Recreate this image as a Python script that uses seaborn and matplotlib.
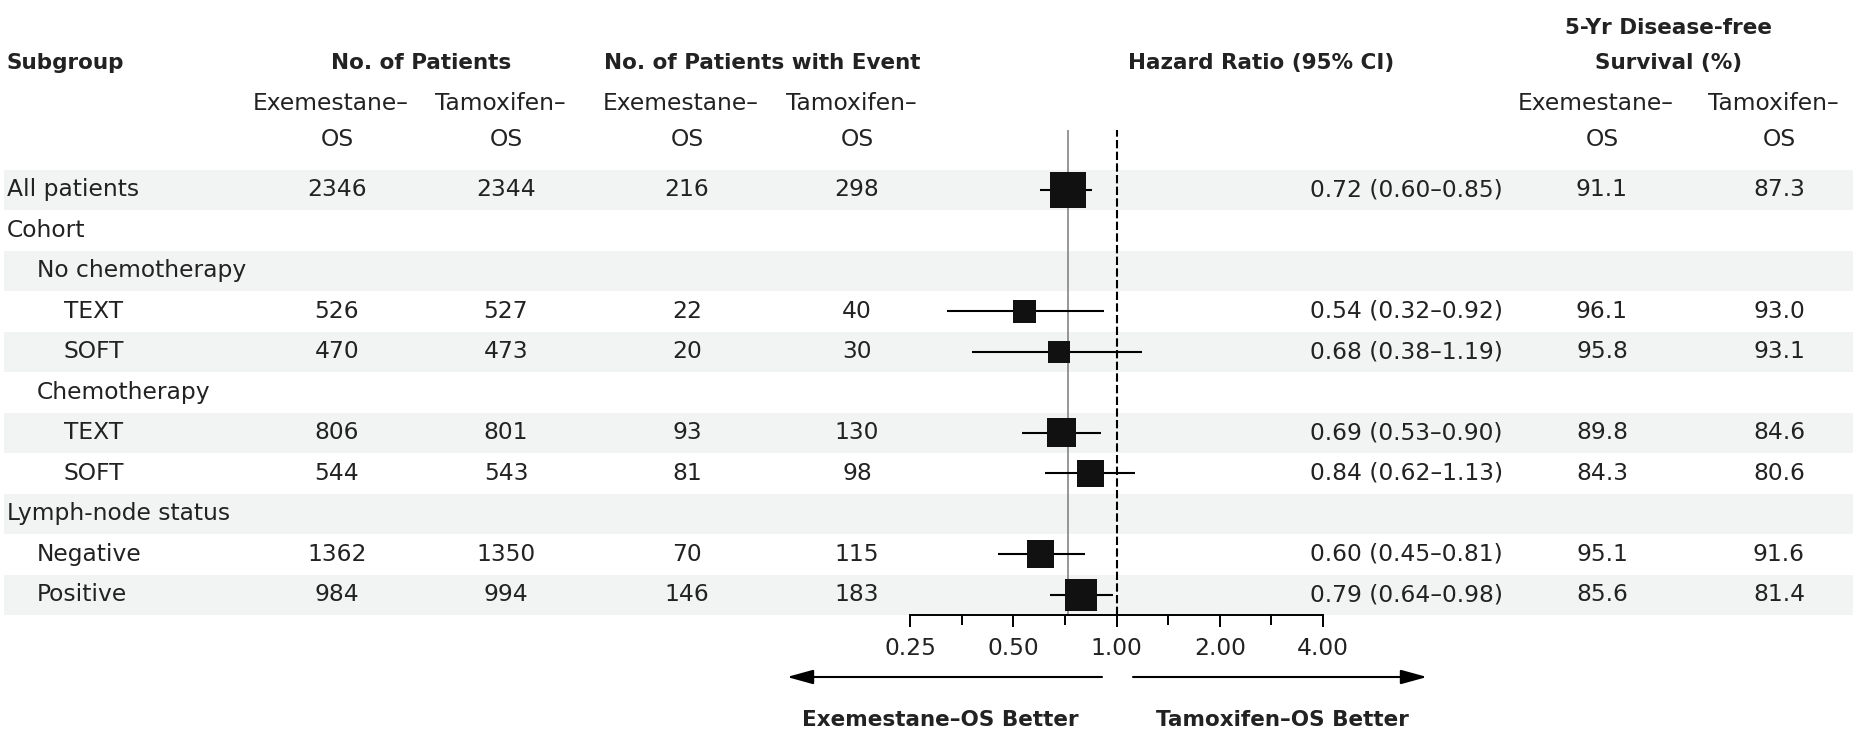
import numpy as np
import pandas as pd
import matplotlib
matplotlib.use('Agg')
import matplotlib.pyplot as plt
import matplotlib.transforms as mtransforms
from matplotlib.patches import Rectangle
from matplotlib.ticker import NullFormatter
import seaborn as sns

# ---- data ----
subgroups = ['All patients', 'Cohort', 'No chemotherapy', 'TEXT', 'SOFT',
             'Chemotherapy', 'TEXT', 'SOFT', 'Lymph-node status', 'Negative', 'Positive']
level = [0, 0, 1, 2, 2, 1, 2, 2, 0, 1, 1]
n_exe = [2346, None, None, 526, 470, None, 806, 544, None, 1362, 984]
n_tam = [2344, None, None, 527, 473, None, 801, 543, None, 1350, 994]
ev_exe = [216, None, None, 22, 20, None, 93, 81, None, 70, 146]
ev_tam = [298, None, None, 40, 30, None, 130, 98, None, 115, 183]
hr = [0.72, None, None, 0.54, 0.68, None, 0.69, 0.84, None, 0.60, 0.79]
hr_lo = [0.60, None, None, 0.32, 0.38, None, 0.53, 0.62, None, 0.45, 0.64]
hr_hi = [0.85, None, None, 0.92, 1.19, None, 0.90, 1.13, None, 0.81, 0.98]
dfs_exe = [91.1, None, None, 96.1, 95.8, None, 89.8, 84.3, None, 95.1, 85.6]
dfs_tam = [87.3, None, None, 93.0, 93.1, None, 84.6, 80.6, None, 91.6, 81.4]
x_ticks = [0.25, 0.5, 1.0, 2.0, 4.0]
x_ticklabels = ['0.25', '0.50', '1.00', '2.00', '4.00']

df = pd.DataFrame({'row': np.arange(len(subgroups)), 'hr': hr, 'lo': hr_lo, 'hi': hr_hi,
                   'ev_exe': ev_exe, 'ev_tam': ev_tam})
pts = df.dropna(subset=['hr']).copy()
# square side grows with the number of events
pts['side'] = (15.5 + 0.9 * np.sqrt(pts['ev_exe'] + pts['ev_tam'])) * 0.72

W, H = 1858, 733
INK = '#222222'
SHADE = '#f2f4f3'
FS = 16.8
FSB = 15.5

sns.set_style('white')
plt.rcParams['font.family'] = ['DejaVu Sans']
plt.rcParams['text.color'] = INK


def fx(px):
    return px / W


def fy(py):
    return 1 - py / H


fig = plt.figure(figsize=(W / 100, H / 100), dpi=100)
ax = fig.add_axes([fx(910), fy(615), (1323 - 910) / W, (615 - 130) / H])
ax.patch.set_visible(False)
ax.set_xscale('log', base=2)
ax.set_xlim(0.25, 4)
ax.set_ylim(10.5, -1.48)
row_tr = mtransforms.blended_transform_factory(fig.transFigure, ax.transData)

# alternating row shading over full width
for i in range(0, len(subgroups), 2):
    ax.add_patch(Rectangle((fx(4), i - 0.5), fx(1853) - fx(4), 1, transform=row_tr,
                           facecolor=SHADE, edgecolor='none', zorder=0, clip_on=False))

ax.axvline(hr[0], color='#7a7a7a', lw=1.1, zorder=1)
ax.axvline(1.0, color='black', lw=1.5, ls=(0, (4, 1.6)), zorder=1)
ax.hlines(pts['row'], pts['lo'], pts['hi'], color='black', lw=1.5, zorder=3)
sns.scatterplot(data=pts, x='hr', y='row', s=pts['side'] ** 2, marker='s',
                color='#111111', linewidth=0, legend=False, ax=ax, zorder=4)
ax.set_xlabel('')
ax.set_ylabel('')

ax.set_xticks(x_ticks)
ax.set_xticklabels(x_ticklabels)
ax.set_xticks(np.sqrt(np.array(x_ticks[:-1]) * np.array(x_ticks[1:])), minor=True)
ax.xaxis.set_minor_formatter(NullFormatter())
ax.tick_params(axis='x', which='major', bottom=True, direction='out', length=8.6, width=1.4,
               pad=7, labelsize=FS, colors='black', labelcolor=INK)
ax.tick_params(axis='x', which='minor', bottom=True, direction='out', length=7.2, width=1.4,
               colors='black')
ax.set_yticks([])
sns.despine(ax=ax, left=True)
ax.spines['bottom'].set_linewidth(1.4)
ax.spines['bottom'].set_color('black')

# ---- table text ----
indent_px = [7, 37, 64]
for i, name in enumerate(subgroups):
    ax.text(fx(indent_px[level[i]]), i, name, transform=row_tr, ha='left', va='center', fontsize=FS)

cols = [(337, n_exe), (506, n_tam), (687, ev_exe), (857, ev_tam)]
for x, vals in cols:
    for i, v in enumerate(vals):
        if v is not None:
            ax.text(fx(x), i, f'{v}', transform=row_tr, ha='center', va='center', fontsize=FS)
for x, vals in [(1602, dfs_exe), (1779, dfs_tam)]:
    for i, v in enumerate(vals):
        if v is not None:
            ax.text(fx(x), i, f'{v:.1f}', transform=row_tr, ha='center', va='center', fontsize=FS)
for i in range(len(subgroups)):
    if hr[i] is not None:
        ax.text(fx(1503), i, f'{hr[i]:.2f} ({hr_lo[i]:.2f}\u2013{hr_hi[i]:.2f})',
                transform=row_tr, ha='right', va='center', fontsize=FS)

# ---- headers ----
hdr = dict(fontsize=FSB, fontweight='bold', va='center')
fig.text(fx(7), fy(63), 'Subgroup', ha='left', **hdr)
fig.text(fx(421), fy(63), 'No. of Patients', ha='center', **hdr)
fig.text(fx(762), fy(63), 'No. of Patients with Event', ha='center', **hdr)
fig.text(fx(1261), fy(63), 'Hazard Ratio (95% CI)', ha='center', **hdr)
fig.text(fx(1669), fy(28), '5-Yr Disease-free', ha='center', **hdr)
fig.text(fx(1669), fy(63), 'Survival (%)', ha='center', **hdr)
for x, arm in [(337, 'Exemestane'), (506, 'Tamoxifen'), (687, 'Exemestane'),
               (857, 'Tamoxifen'), (1602, 'Exemestane'), (1779, 'Tamoxifen')]:
    fig.text(fx(x - 6), fy(103), arm + '\u2013', ha='center', va='center', fontsize=FS)
    fig.text(fx(x), fy(139), 'OS', ha='center', va='center', fontsize=FS)

# ---- direction arrows ----
arr = dict(arrowstyle='-|>,head_length=0.8,head_width=0.22', color='black', lw=1.5,
           mutation_scale=20, shrinkA=0, shrinkB=0)
ax.annotate('', xy=(fx(787), fy(677)), xytext=(fx(1102), fy(677)),
            xycoords='figure fraction', textcoords='figure fraction', arrowprops=arr)
ax.annotate('', xy=(fx(1427), fy(677)), xytext=(fx(1133), fy(677)),
            xycoords='figure fraction', textcoords='figure fraction', arrowprops=arr)
fig.text(fx(940), fy(720), 'Exemestane\u2013OS Better', ha='center', **hdr)
fig.text(fx(1282), fy(720), 'Tamoxifen\u2013OS Better', ha='center', **hdr)

fig.savefig('out.png', dpi=100, facecolor='white')
